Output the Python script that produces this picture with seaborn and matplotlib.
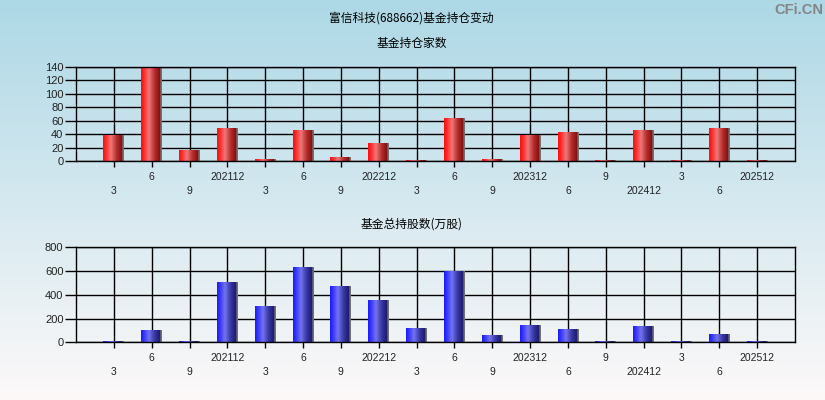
import numpy as np
import pandas as pd
import matplotlib
matplotlib.use("Agg")
import matplotlib.pyplot as plt
import seaborn as sns
from matplotlib.colors import LinearSegmentedColormap

# 数据
quarters = ['202103', '202106', '202109', '202112', '202203', '202206', '202209', '202212',
            '202303', '202306', '202309', '202312', '202406', '202409', '202412',
            '202503', '202506', '202512']
fund_count = [39, 140, 17, 50, 3, 46, 6, 27, 2, 64, 3, 39, 43, 2, 46, 2, 50, 2]
fund_shares = [10, 103, 10, 508, 306, 635, 475, 357, 121, 598, 62, 146, 112, 8, 138, 8, 70, 8]

count_ticks = [0, 20, 40, 60, 80, 100, 120, 140]
shares_ticks = [0, 200, 400, 600, 800]

df = pd.DataFrame({'quarter': quarters, 'count': fund_count, 'shares': fund_shares})

sns.set_theme(style="white")
plt.rcParams['font.family'] = ['Liberation Sans', 'Noto Sans CJK SC', 'DejaVu Sans']

red_cmap = LinearSegmentedColormap.from_list('red_bar', [
    (0.0, (1.0, 0.05, 0.05)), (0.12, (1.0, 0.15, 0.15)), (0.38, (0.93, 0.47, 0.47)),
    (0.65, (0.72, 0.18, 0.18)), (0.92, (0.50, 0.06, 0.06)), (0.93, (0.45, 0.45, 0.45)),
    (1.0, (0.45, 0.45, 0.45))])
blue_cmap = LinearSegmentedColormap.from_list('blue_bar', [
    (0.0, (0.1, 0.1, 1.0)), (0.12, (0.2, 0.2, 1.0)), (0.38, (0.45, 0.45, 0.93)),
    (0.65, (0.22, 0.22, 0.65)), (0.92, (0.10, 0.10, 0.42)), (0.93, (0.45, 0.45, 0.45)),
    (1.0, (0.45, 0.45, 0.45))])

fig = plt.figure(figsize=(8.25, 4), dpi=100)

# 背景渐变
bg = fig.add_axes([0, 0, 1, 1], zorder=-10)
bg_cmap = LinearSegmentedColormap.from_list('bg', [(0.0, '#add8e6'), (1.0, '#fdf9f9')])
bg.imshow(np.linspace(0, 1, 256).reshape(-1, 1), aspect='auto', cmap=bg_cmap,
          extent=[0, 1, 0, 1], origin='upper')
bg.axis('off')


def gradient_bars(ax, cmap):
    grad = np.linspace(0, 1, 64).reshape(1, -1)
    for p in list(ax.patches):
        x0, y0 = p.get_x(), p.get_y()
        w, h = p.get_width(), p.get_height()
        im = ax.imshow(grad, extent=[x0, x0 + w, y0, y0 + h], aspect='auto',
                       cmap=cmap, zorder=p.get_zorder() + 0.1)
        im.set_clip_path(p)


def draw_panel(ax, col, cmap, yticks):
    sns.barplot(data=df, x='quarter', y=col, order=quarters, ax=ax, width=0.55,
                color='red', saturation=1, edgecolor='none')
    gradient_bars(ax, cmap)
    ax.set_facecolor('none')
    ax.set_xlim(-1, len(quarters))
    ax.set_ylim(yticks[0], yticks[-1])
    ax.set_yticks(yticks)
    ax.set_xticks(range(len(quarters)))
    labels = []
    for i, q in enumerate(quarters):
        lab = q if q.endswith('12') else str(int(q[4:]))
        labels.append(lab if i % 2 == 1 else '\n' + lab)
    ax.set_xticklabels(labels)
    for t in ax.get_xticklabels():
        t.set_linespacing(1.4)
    ax.set_axisbelow(True)
    ax.grid(True, color='black', linewidth=1)
    for s in ax.spines.values():
        s.set_color('black')
        s.set_linewidth(1)
    ax.tick_params(axis='x', length=4, width=1, color='black', pad=4, labelsize=7.5,
                   labelcolor='#222222', bottom=True)
    ax.tick_params(axis='y', length=8, width=1, color='black', pad=1, labelsize=8,
                   labelcolor='#222222', left=True)
    ax.set_xlabel('')
    ax.set_ylabel('')


ax1 = fig.add_axes([0.0921, 0.5967, 0.8715, 0.2366])
draw_panel(ax1, 'count', red_cmap, count_ticks)

ax2 = fig.add_axes([0.0921, 0.1442, 0.8715, 0.2375])
draw_panel(ax2, 'shares', blue_cmap, shares_ticks)

cjk = ['Noto Sans CJK SC', 'DejaVu Sans']
fig.text(0.4988, 1 - 18 / 400, '富信科技(688662)基金持仓变动', ha='center', va='center',
         fontsize=8.5, family=cjk, color='black')
fig.text(0.4988, 1 - 43 / 400, '基金持仓家数', ha='center', va='center',
         fontsize=8.5, family=cjk, color='black')
fig.text(0.4988, 1 - 224 / 400, '基金总持股数(万股)', ha='center', va='center',
         fontsize=8.5, family=cjk, color='black')
fig.text(823 / 825, 1 - 10 / 400, 'CFi.CN', ha='right', va='center', fontsize=10.5,
         fontweight='bold', color='#858585', family=['Liberation Sans', 'DejaVu Sans'])

fig.savefig('out.png', dpi=100)
